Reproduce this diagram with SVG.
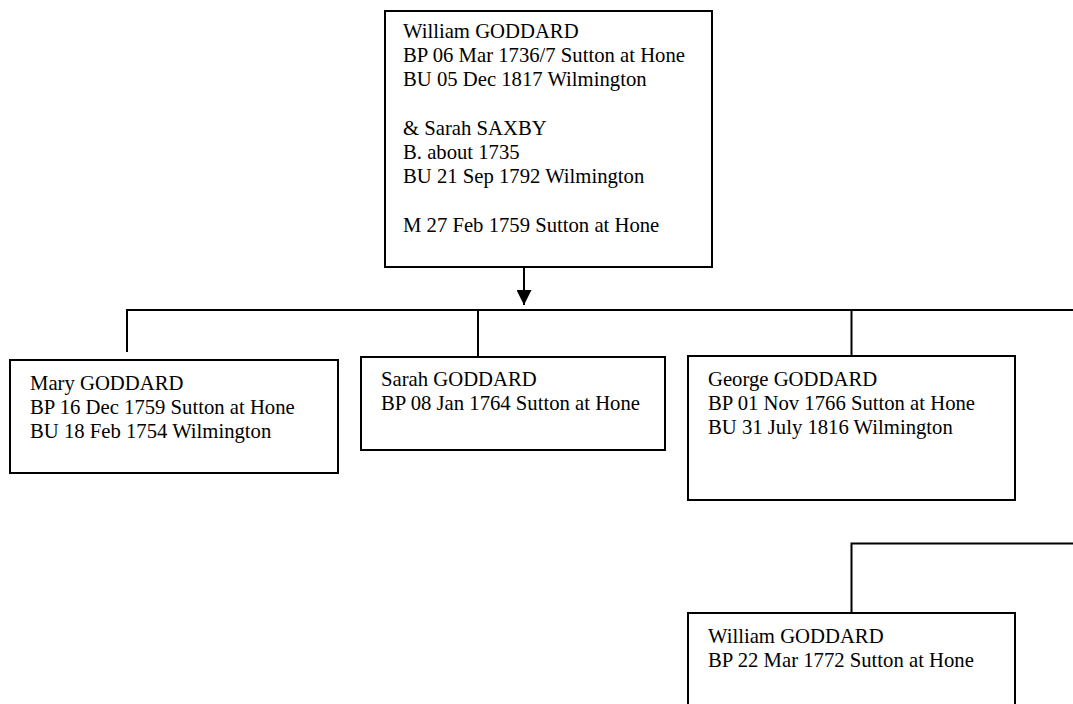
<svg xmlns="http://www.w3.org/2000/svg" width="1073" height="704" viewBox="0 0 1073 704">
<style>
.box{fill:#fff;stroke:#000;stroke-width:2}
.ln{fill:none;stroke:#000;stroke-width:2}
text{font-family:"Liberation Serif","Times New Roman",serif;font-size:20.7px;fill:#000}
</style>
<defs>
<marker id="arr" markerWidth="15" markerHeight="15" refX="15" refY="7.5" orient="auto" markerUnits="userSpaceOnUse" viewBox="0 0 15 15">
<path d="M0,0 L15,7.5 L0,15 Z" fill="#000"/>
</marker>
</defs>
<rect width="1073" height="704" fill="#fff"/>
<g id="connectors">
<line class="ln" x1="524" y1="267" x2="524" y2="305" marker-end="url(#arr)"/>
<polyline class="ln" points="127,352 127,310 1073,310"/>
<line class="ln" x1="478" y1="310" x2="478" y2="357"/>
<line class="ln" x1="851.5" y1="310" x2="851.5" y2="356"/>
<polyline class="ln" points="851.5,613 851.5,543.5 1073,543.5"/>
</g>
<g id="parents">
<rect class="box" x="385" y="11" width="327" height="256"/>
<text x="403" y="38">William GODDARD</text>
<text x="403" y="62">BP 06 Mar 1736/7 Sutton at Hone</text>
<text x="403" y="86">BU 05 Dec 1817 Wilmington</text>
<text x="403" y="135">&amp; Sarah SAXBY</text>
<text x="403" y="159">B. about 1735</text>
<text x="403" y="183">BU 21 Sep 1792 Wilmington</text>
<text x="403" y="232">M 27 Feb 1759 Sutton at Hone</text>
</g>
<g id="mary">
<rect class="box" x="10" y="360" width="328" height="113"/>
<text x="30" y="390">Mary GODDARD</text>
<text x="30" y="414">BP 16 Dec 1759 Sutton at Hone</text>
<text x="30" y="438">BU 18 Feb 1754 Wilmington</text>
</g>
<g id="sarah">
<rect class="box" x="361" y="357" width="304" height="93"/>
<text x="381" y="386">Sarah GODDARD</text>
<text x="381" y="410">BP 08 Jan 1764 Sutton at Hone</text>
</g>
<g id="george">
<rect class="box" x="688" y="356" width="327" height="144"/>
<text x="708" y="386">George GODDARD</text>
<text x="708" y="410">BP 01 Nov 1766 Sutton at Hone</text>
<text x="708" y="434">BU 31 July 1816 Wilmington</text>
</g>
<g id="william-child">
<rect class="box" x="688" y="613" width="327" height="120"/>
<text x="708" y="643">William GODDARD</text>
<text x="708" y="667">BP 22 Mar 1772 Sutton at Hone</text>
</g>
</svg>
